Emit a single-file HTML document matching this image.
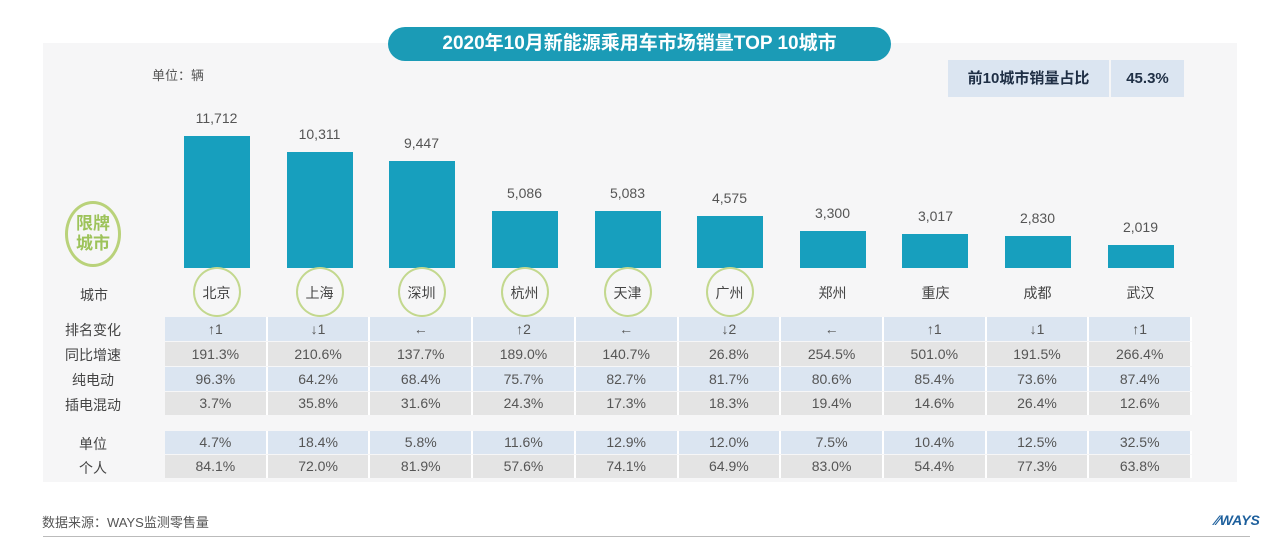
<!DOCTYPE html>
<html><head><meta charset="utf-8"><style>
*{margin:0;padding:0;box-sizing:border-box}
body{width:1280px;height:539px;background:#fff;position:relative;overflow:hidden;font-family:"Liberation Sans","Noto Sans CJK SC",sans-serif;color:#555}
.abs{position:absolute}
#panel{left:43px;top:43px;width:1194px;height:439px;background:#f6f6f7}
#title{left:388px;top:27px;width:503px;height:34px;border-radius:17px;background:#1b9bb6;color:#fff;font-weight:bold;font-size:19px;text-align:center;line-height:34px}
.bar{position:absolute;background:#179fbe;width:66px}
.val{position:absolute;width:103px;text-align:center;font-size:14px;color:#555}
.city{position:absolute;width:103px;text-align:center;font-size:14px;color:#444;top:283px}
.ring{position:absolute;width:48px;height:50px;border:2px solid #c3d88e;border-radius:50%;top:267px}
.row{position:absolute;left:165px;width:1027px;display:flex}
.row div{flex:1;text-align:center;font-size:14px;color:#555;border-right:2px solid #fff}
.b div{background:#dbe5f1}.g div{background:#e4e4e4}
.lab{position:absolute;left:43px;width:100px;text-align:center;font-size:14px;color:#444}
</style></head><body>
<div id="panel" class="abs"></div>
<div id="title" class="abs">2020年10月新能源乘用车市场销量TOP 10城市</div>
<div class="abs" style="left:948px;top:60px;width:161px;height:37px;background:#dbe5f1;font-weight:bold;font-size:15px;color:#1f2f45;text-align:center;line-height:37px">前10城市销量占比</div>
<div class="abs" style="left:1111px;top:60px;width:73px;height:37px;background:#dbe5f1;font-weight:bold;font-size:15px;color:#1f2f45;text-align:center;line-height:37px">45.3%</div>
<div class="abs" style="left:152px;top:65px;font-size:13px;color:#555">单位：辆</div>
<div class="abs" style="left:65px;top:201px;width:56px;height:66px;border:3px solid #b9d27a;border-radius:50%;"></div>
<div class="abs" style="left:70px;top:214px;width:46px;text-align:center;font-weight:bold;font-size:17px;color:#9dc35a;line-height:20px">限牌<br>城市</div>
<div class="abs" style="left:80px;top:285px;font-size:14px;color:#444">城市</div>

<div class="bar" style="left:184px;top:136px;height:132px"></div>
<div class="bar" style="left:287px;top:152px;height:116px"></div>
<div class="bar" style="left:389px;top:161px;height:107px"></div>
<div class="bar" style="left:492px;top:211px;height:57px"></div>
<div class="bar" style="left:595px;top:211px;height:57px"></div>
<div class="bar" style="left:697px;top:216px;height:52px"></div>
<div class="bar" style="left:800px;top:231px;height:37px"></div>
<div class="bar" style="left:902px;top:234px;height:34px"></div>
<div class="bar" style="left:1005px;top:236px;height:32px"></div>
<div class="bar" style="left:1108px;top:245px;height:23px"></div>

<div class="val" style="left:165px;top:110px">11,712</div>
<div class="val" style="left:268px;top:126px">10,311</div>
<div class="val" style="left:370px;top:135px">9,447</div>
<div class="val" style="left:473px;top:185px">5,086</div>
<div class="val" style="left:576px;top:185px">5,083</div>
<div class="val" style="left:678px;top:190px">4,575</div>
<div class="val" style="left:781px;top:205px">3,300</div>
<div class="val" style="left:884px;top:208px">3,017</div>
<div class="val" style="left:986px;top:210px">2,830</div>
<div class="val" style="left:1089px;top:219px">2,019</div>

<div class="ring" style="left:193px"></div>
<div class="ring" style="left:296px"></div>
<div class="ring" style="left:398px"></div>
<div class="ring" style="left:501px"></div>
<div class="ring" style="left:604px"></div>
<div class="ring" style="left:706px"></div>

<div class="city" style="left:165px">北京</div>
<div class="city" style="left:268px">上海</div>
<div class="city" style="left:370px">深圳</div>
<div class="city" style="left:473px">杭州</div>
<div class="city" style="left:576px">天津</div>
<div class="city" style="left:678px">广州</div>
<div class="city" style="left:781px">郑州</div>
<div class="city" style="left:884px">重庆</div>
<div class="city" style="left:986px">成都</div>
<div class="city" style="left:1089px">武汉</div>

<div class="lab" style="top:320px">排名变化</div>
<div class="lab" style="top:345px">同比增速</div>
<div class="lab" style="top:370px">纯电动</div>
<div class="lab" style="top:395px">插电混动</div>
<div class="lab" style="top:434px">单位</div>
<div class="lab" style="top:458px">个人</div>

<div class="row b" style="top:317px;height:24px;line-height:24px"><div>↑1</div><div>↓1</div><div>←</div><div>↑2</div><div>←</div><div>↓2</div><div>←</div><div>↑1</div><div>↓1</div><div>↑1</div></div>
<div class="row g" style="top:342px;height:24px;line-height:24px"><div>191.3%</div><div>210.6%</div><div>137.7%</div><div>189.0%</div><div>140.7%</div><div>26.8%</div><div>254.5%</div><div>501.0%</div><div>191.5%</div><div>266.4%</div></div>
<div class="row b" style="top:367px;height:24px;line-height:24px"><div>96.3%</div><div>64.2%</div><div>68.4%</div><div>75.7%</div><div>82.7%</div><div>81.7%</div><div>80.6%</div><div>85.4%</div><div>73.6%</div><div>87.4%</div></div>
<div class="row g" style="top:392px;height:23px;line-height:23px"><div>3.7%</div><div>35.8%</div><div>31.6%</div><div>24.3%</div><div>17.3%</div><div>18.3%</div><div>19.4%</div><div>14.6%</div><div>26.4%</div><div>12.6%</div></div>
<div class="row b" style="top:431px;height:23px;line-height:23px"><div>4.7%</div><div>18.4%</div><div>5.8%</div><div>11.6%</div><div>12.9%</div><div>12.0%</div><div>7.5%</div><div>10.4%</div><div>12.5%</div><div>32.5%</div></div>
<div class="row g" style="top:455px;height:23px;line-height:23px"><div>84.1%</div><div>72.0%</div><div>81.9%</div><div>57.6%</div><div>74.1%</div><div>64.9%</div><div>83.0%</div><div>54.4%</div><div>77.3%</div><div>63.8%</div></div>

<div class="abs" style="left:42px;top:512px;font-size:13px;color:#555">数据来源：WAYS监测零售量</div>
<div class="abs" style="left:1215px;top:512px;font-size:14px;font-weight:bold;font-style:italic;color:#1d5f9c">⁄⁄WAYS</div>
<div class="abs" style="left:43px;top:536px;width:1207px;height:1px;background:#bbb"></div>
</body></html>
